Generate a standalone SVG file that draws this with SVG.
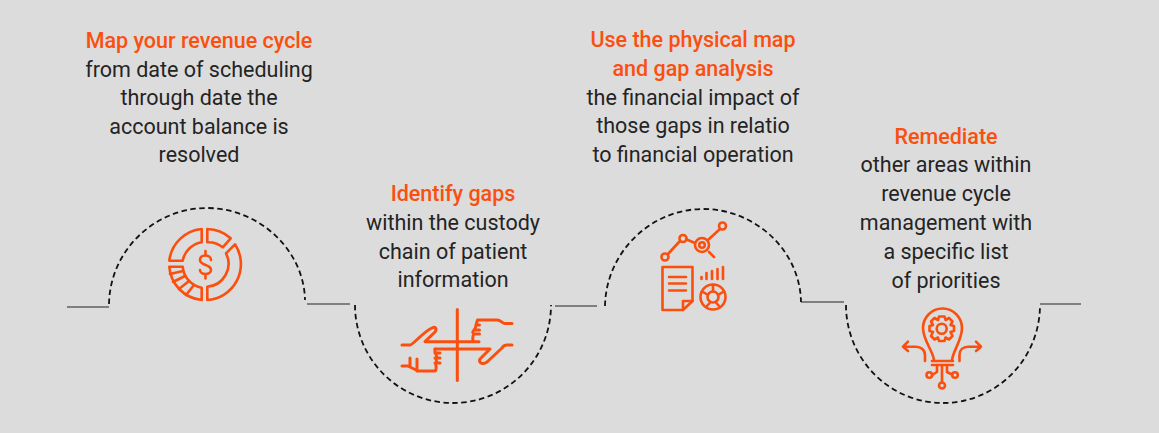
<svg xmlns="http://www.w3.org/2000/svg" width="1159" height="433" viewBox="0 0 1159 433">
<style>
.t{font-family:Roboto,"Liberation Sans",sans-serif;font-size:21.5px;fill:#242424;text-anchor:middle}
.h{font-weight:500;fill:#fa4f0f}
.i{fill:none;stroke:#fa4f0f;stroke-width:2.6;stroke-linecap:round;stroke-linejoin:round}
.d{fill:none;stroke:#111;stroke-width:1.8;stroke-dasharray:5.500 3.500}
.l{fill:none;stroke:#222;stroke-width:1.1}
</style>
<rect width="1159" height="433" fill="#dcdcdc"/>
<g id="connectors">
<path class="l" d="M67 307H109M307 304H350M555 306H597M801 302H844M1040 304H1081"/>
<path class="d" d="M109 304C110 250 155 208 207 208C259 208 304 250 305 300"/>
<path class="d" d="M355 305A98 98 0 0 0 551 305"/>
<path class="d" d="M605 306C606 252 651 209 703 209C755 209 800 250 801 302"/>
<path class="d" d="M846 305A97 98 0 0 0 1040 305"/>
</g>
<g id="node1">
<text class="t h" x="199" y="47.500">Map your revenue cycle</text>
<text class="t" x="199" y="76.500">from date of scheduling</text>
<text class="t" x="199" y="104.500">through date the</text>
<text class="t" x="199" y="133.500">account balance is</text>
<text class="t" x="199" y="162">resolved</text>
<g class="i">
<path d="M201.700 229A36 36 0 0 0 169.300 260.700H182.700A23 23 0 0 1 201.700 242.300Z"/>
<path d="M207.300 229A36 36 0 0 1 230.700 238.300L222.700 247.300A23 23 0 0 0 207.300 242.300Z"/>
<path d="M235 244.300A36 36 0 0 1 207.300 300V286.700A23 23 0 0 0 226 253.300Z"/>
<path d="M169.300 266.700A36 36 0 0 0 201.700 300V287.700A23 23 0 0 1 182.700 266.700Z"/>
<path d="M170 274L183 271M173 282L185 276M179 289L189 281M186 295L194 285"/>
<path d="M211 260C211 257 208 255.500 205 255.500C202 255.500 200 257.500 200 260C200 263 203 264 205.500 265C208.500 266 211 267 211 270C211 272.500 208.500 274 205.500 274C202.500 274 200 272.500 200 270M205.500 255.500V251M205.500 274V278.500"/>
</g>
</g>
<g id="node2">
<text class="t h" x="453" y="201">Identify gaps</text>
<text class="t" x="453" y="230">within the custody</text>
<text class="t" x="453" y="259">chain of patient</text>
<text class="t" x="453" y="287">information</text>
<g class="i" style="stroke-width:3">
<path d="M457.300 309.500V380.500"/>
<path d="M512 323.500H505C502 323.500 501 320 497 320H477.500L476 325H479.500M476 325C476 327 475 329 474 330H479.500M474 330C472 332 473 334 474 334H479.500M474 334C472 336 473 340 473 341"/>
<path d="M402 345H410C413 345 423 332 432 328C436 326 437 329 435 332L425 341.700H479"/>
<path d="M512 345H507C505 345 503 346 502 348L487 362C483 365 478 363 480 359L490 349H435"/>
<path d="M435 349L435 353H440M435 353C437 355 437 358 435 358H440M435 358C437 360 437 363 435 363H440M435 363C437 366 436 371 435 371H418L408 366H402M410 366V358M417 371V359"/>
</g>
</g>
<g id="node3">
<text class="t h" x="693" y="47">Use the physical map</text>
<text class="t h" x="693" y="76">and gap analysis</text>
<text class="t" x="693" y="104.500">the financial impact of</text>
<text class="t" x="693" y="132.500">those gaps in relatio</text>
<text class="t" x="693" y="161.500">to financial operation</text>
<g class="i">
<circle cx="665" cy="257" r="3.500"/><circle cx="683" cy="238.500" r="3.500"/><circle cx="702" cy="245" r="7"/><circle cx="702" cy="245" r="2.800"/><circle cx="722.500" cy="226" r="3.500"/>
<path d="M668 254L680 241M686.500 239.500L695 243M708 240L720 229M709 252L714 257"/>
<path d="M662.500 267H692.500V301L683 310H662.500Z"/>
<path d="M692.500 301H683V310M669 277H686M669 283.500H686M669 290.500H686"/>
<path d="M701.500 277V279M706.500 273V279M712 271V279M717.500 269V279M723 267V279"/>
<circle cx="713" cy="297" r="12.500"/><circle cx="713" cy="297" r="5.500"/>
<path d="M713 285V291.500M703 292L708 295M723 292L718 295M707 306L710.500 302M719 306L715.500 302"/>
</g>
</g>
<g id="node4">
<text class="t h" x="946" y="143.500">Remediate</text>
<text class="t" x="946" y="171.500">other areas within</text>
<text class="t" x="946" y="200.500">revenue cycle</text>
<text class="t" x="946" y="229.500">management with</text>
<text class="t" x="946" y="258.500">a specific list</text>
<text class="t" x="946" y="287.500">of priorities</text>
<g class="i">
<path d="M934 360C933 351 923 340 923 328A19.500 19.500 0 0 1 962 328C962 340 953 351 952 360"/>
<path d="M932 361H953M932 365H953"/>
<circle cx="941.700" cy="328.700" r="5"/>
<path d="M939 316.500H944.500L945.500 320L949 318L952.500 321.500L950.500 325L954 326V331L950.500 332L952.500 336L949 339.500L945.500 337.500L944.500 341H939L938 337.500L934.500 339.500L931 336L933 332L929.500 331V326L933 325L931 321.500L934.500 318L938 320Z"/>
<path d="M925 361V355C925 350 921 346.700 916 346.700H903M908 341.700L903 346.700L908 351"/>
<path d="M959.500 361V355C959.500 350 963 346.700 968 346.700H981M976 341.700L981 346.700L976 351"/>
<path d="M937 365V372L932 375M942 365V382.500M947 365V372L952 374.500"/>
<circle cx="929.300" cy="375" r="2.800"/><circle cx="942" cy="385.500" r="3"/><circle cx="955" cy="375" r="2.800"/>
</g>
</g>
</svg>
